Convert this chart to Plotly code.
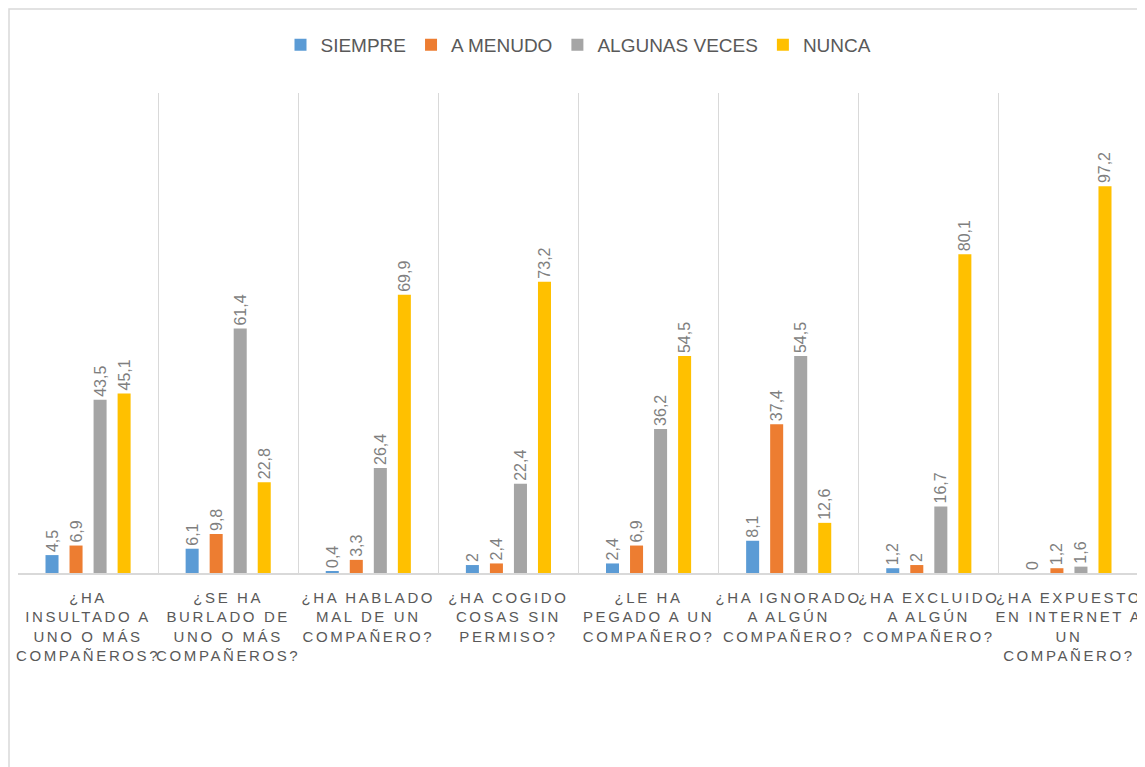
import plotly.graph_objects as go

categories = [
    "¿HA<br>INSULTADO A<br>UNO O MÁS<br>COMPAÑEROS?",
    "¿SE HA<br>BURLADO DE<br>UNO O MÁS<br>COMPAÑEROS?",
    "¿HA HABLADO<br>MAL DE UN<br>COMPAÑERO?",
    "¿HA COGIDO<br>COSAS SIN<br>PERMISO?",
    "¿LE HA<br>PEGADO A UN<br>COMPAÑERO?",
    "¿HA IGNORADO<br>A ALGÚN<br>COMPAÑERO?",
    "¿HA EXCLUIDO<br>A ALGÚN<br>COMPAÑERO?",
    "¿HA EXPUESTO<br>EN INTERNET A<br>UN<br>COMPAÑERO?",
]
series_names = ["SIEMPRE", "A MENUDO", "ALGUNAS VECES", "NUNCA"]
siempre = [4.5, 6.1, 0.4, 2, 2.4, 8.1, 1.2, 0]
a_menudo = [6.9, 9.8, 3.3, 2.4, 6.9, 37.4, 2, 1.2]
algunas_veces = [43.5, 61.4, 26.4, 22.4, 36.2, 54.5, 16.7, 1.6]
nunca = [45.1, 22.8, 69.9, 73.2, 54.5, 12.6, 80.1, 97.2]
colors = ["#5B9BD5", "#ED7D31", "#A5A5A5", "#FFC000"]

def fmt(v):
    return ("%g" % v).replace(".", ",")

W, H = 1137, 759
ML, MR, MT, MB = 10, 6, 85, 194
PH = H - MT - MB
PW = W - ML - MR

fig = go.Figure()
for name, vals, col in zip(series_names, [siempre, a_menudo, algunas_veces, nunca], colors):
    fig.add_trace(go.Bar(
        x=categories, y=vals, name=name,
        marker=dict(color=col, line=dict(width=0)),
        text=[fmt(v) for v in vals],
        textposition="outside", textangle=-90, constraintext="none",
        textfont=dict(family="Liberation Sans, Arial", size=16, color="#7F7F7F"),
        cliponaxis=False,
    ))

fig.update_layout(
    width=W, height=H,
    margin=dict(l=ML, r=MR, t=MT, b=MB),
    paper_bgcolor="white", plot_bgcolor="white",
    barmode="group", bargap=0.314, bargroupgap=0.458,
    showlegend=True,
    legend=dict(orientation="h", x=0.5, xanchor="center", y=(PH + 48) / PH, yanchor="middle",
                font=dict(family="Liberation Sans Narrow, Liberation Sans, Arial", size=19, color="#595959"),
                itemwidth=30, tracegroupgap=0),
    xaxis=dict(
        tickson="boundaries", showgrid=True, gridcolor="#D9D9D9", gridwidth=1,
        showline=True, linecolor="#D9D9D9", linewidth=1.5,
        ticks="", tickangle=0, ticklabelstandoff=10,
        tickfont=dict(family="Liberation Sans, Arial", size=15, color="#595959"),
        fixedrange=True,
    ),
    yaxis=dict(range=[0, 120.6], showgrid=False, showticklabels=False, zeroline=False,
               showline=False, ticks=""),
)

fig.add_shape(type="rect", xref="paper", yref="paper",
              x0=-(ML - 1) / PW, x1=1.02, y0=-0.5, y1=(PH + MT - 1) / PH,
              line=dict(color="#D9D9D9", width=1.5), fillcolor="rgba(0,0,0,0)", layer="below")

post = """
var gd=document.getElementById('{plot_id}');
function ls(){gd.querySelectorAll('.xtick text').forEach(function(t){t.style.letterSpacing='2.6px';});}
ls(); if(gd.on){gd.on('plotly_afterplot', ls);}
"""
fig.write_html("out.html", post_script=post)
